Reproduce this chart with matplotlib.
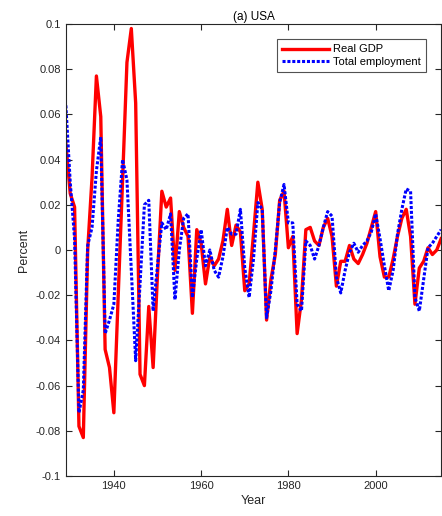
import numpy as np
import matplotlib
matplotlib.use("Agg")
import matplotlib.pyplot as plt
from matplotlib.ticker import FuncFormatter

plt.rcParams['font.family'] = ['Liberation Sans', 'DejaVu Sans']

# 연도 1929 ~ 2015
years = np.arange(1929, 2016)

# 실질 GDP
real_gdp = [
    0.047, 0.025, 0.019, -0.078, -0.083, 0.000, 0.032, 0.077, 0.059, -0.044,   # 1929-1938
    -0.052, -0.072, -0.020, 0.031, 0.083, 0.098, 0.065, -0.055, -0.060, -0.025,  # 1939-1948
    -0.052, -0.011, 0.026, 0.019, 0.023, -0.009, 0.017, 0.010, 0.006, -0.028,   # 1949-1958
    0.009, 0.003, -0.015, -0.003, -0.007, -0.004, 0.004, 0.018, 0.002, 0.011,   # 1959-1968
    0.008, -0.018, -0.015, 0.007, 0.030, 0.018, -0.031, -0.013, -0.002, 0.022,  # 1969-1978
    0.026, 0.001, 0.006, -0.037, -0.022, 0.009, 0.010, 0.004, 0.002, 0.010,     # 1979-1988
    0.014, 0.006, -0.016, -0.005, -0.005, 0.002, -0.004, -0.006, -0.002, 0.003, # 1989-1998
    0.010, 0.017, -0.003, -0.012, -0.012, -0.004, 0.006, 0.014, 0.018, 0.006,   # 1999-2008
    -0.024, -0.008, -0.005, 0.001, -0.002, 0.000, 0.005,                         # 2009-2015
]

# 총고용
employment = [
    0.064, 0.030, 0.005, -0.072, -0.062, 0.002, 0.010, 0.035, 0.050, -0.037,   # 1929-1938
    -0.031, -0.024, 0.013, 0.040, 0.031, -0.009, -0.049, -0.015, 0.020, 0.022,  # 1939-1948
    -0.027, -0.007, 0.012, 0.009, 0.016, -0.022, 0.000, 0.014, 0.016, -0.021,   # 1949-1958
    -0.004, 0.009, -0.007, 0.000, -0.009, -0.012, -0.003, 0.010, 0.007, 0.007,  # 1959-1968
    0.018, -0.008, -0.021, -0.004, 0.021, 0.018, -0.030, -0.018, 0.000, 0.021,  # 1969-1978
    0.029, 0.012, 0.012, -0.024, -0.027, 0.004, 0.002, -0.004, 0.002, 0.010,    # 1979-1988
    0.017, 0.015, -0.012, -0.019, -0.009, -0.001, 0.003, -0.001, 0.002, 0.004,  # 1989-1998
    0.008, 0.016, 0.005, -0.007, -0.018, -0.009, 0.007, 0.018, 0.027, 0.026,    # 1999-2008
    -0.021, -0.027, -0.013, 0.001, 0.003, 0.006, 0.009,                          # 2009-2015
]

fig = plt.figure(figsize=(4.42, 5.16), dpi=100)
ax = fig.add_axes([0.149, 0.0775, 0.849, 0.876])

ax.plot(years, real_gdp, color='red', lw=2.4, label='Real GDP')
ax.plot(years, employment, color='blue', lw=2.2, ls=(0, (1.0, 0.6)),
        label='Total employment')

ax.set_xlim(1929, 2015)
ax.set_ylim(-0.1, 0.1)
ax.set_xticks([1940, 1960, 1980, 2000])
ax.set_yticks(np.round(np.arange(-0.1, 0.1001, 0.02), 2))
ax.yaxis.set_major_formatter(FuncFormatter(lambda v, p: '%g' % round(v, 2)))

# MATLAB 스타일 축
axcol = '#262626'
for s in ax.spines.values():
    s.set_color(axcol)
    s.set_linewidth(0.8)
ax.tick_params(direction='in', top=True, right=True, length=4, width=0.8,
               color=axcol, labelcolor=axcol, labelsize=8)

ax.set_title('(a) USA', fontsize=8.5, color='black', pad=3)
ax.set_xlabel('Year', fontsize=9, color=axcol, labelpad=3)
ax.set_ylabel('Percent', fontsize=9, color=axcol, labelpad=4)

leg = ax.legend(loc='upper right', fontsize=8, frameon=True, fancybox=False,
                edgecolor=axcol, handlelength=4.2, borderpad=0.45,
                labelspacing=0.25, handletextpad=0.4,
                bbox_to_anchor=(0.975, 0.978))
leg.get_frame().set_linewidth(0.8)

fig.savefig('out.png', dpi=100)
